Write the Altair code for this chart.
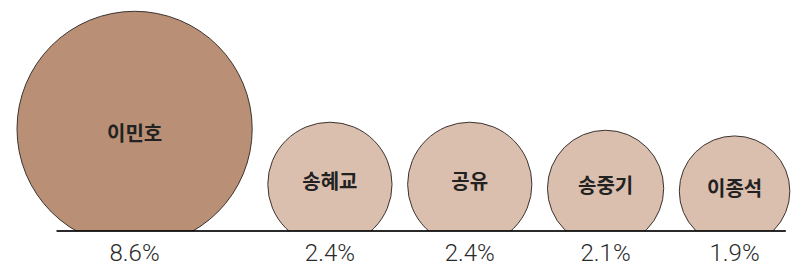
import math
import altair as alt
import pandas as pd

names = ["이민호", "송혜교", "공유", "송중기", "이종석"]
shares = [8.6, 2.4, 2.4, 2.1, 1.9]
share_labels = ["8.6%", "2.4%", "2.4%", "2.1%", "1.9%"]
groups = ["top", "rest", "rest", "rest", "rest"]

W, H = 789, 223
K = 40.1      # px of radius per sqrt(share)
GAP = 15.6    # gap between circles
LEFT = 9
SINK = 15.5   # how far circles sink below the baseline
TOP_LABEL_DROP = 6

rows = []
x = LEFT
for n, s, lab, g in zip(names, shares, share_labels, groups):
    r = K * math.sqrt(s)
    cx = x + r
    x = cx + r + GAP
    cy = r - SINK
    rows.append({"name": n, "share": s, "label": lab, "group": g,
                 "cx": cx, "cy": cy,
                 "ty": cy - (TOP_LABEL_DROP if g == "top" else -1.5),
                 "base": 0})
df = pd.DataFrame(rows)

xs = alt.Scale(domain=[0, W], nice=False, zero=False)
ys = alt.Scale(domain=[0, H], nice=False, zero=False)
maxsize = (2 * K * math.sqrt(max(shares))) ** 2

base = alt.Chart(df)

circles = base.mark_point(filled=True, shape="circle", clip=True, stroke="#3b3330",
                          strokeWidth=1, opacity=1).encode(
    x=alt.X("cx:Q", scale=xs, axis=None),
    y=alt.Y("cy:Q", scale=ys, axis=None),
    size=alt.Size("share:Q", scale=alt.Scale(domain=[0, max(shares)], range=[0, maxsize], zero=True), legend=None),
    color=alt.Color("group:N", scale=alt.Scale(domain=["top", "rest"], range=["#b99075", "#dbbfae"]), legend=None),
)

rule = base.mark_rule(color="#000000", opacity=0.4, strokeWidth=1.5).encode(
    x=alt.value(48.7), x2=alt.value(777.7), y=alt.Y("base:Q", scale=ys)
)

name_text = base.mark_text(font="Noto Sans CJK KR", fontWeight="bold", fontSize=20,
                           color="#222222", baseline="middle", align="center").encode(
    x=alt.X("cx:Q", scale=xs), y=alt.Y("ty:Q", scale=ys), text="name:N"
)

pct_text = base.mark_text(font="Roboto", fontWeight=300, fontSize=24, color="#2a2a2a",
                          baseline="middle", align="center", dy=23).encode(
    x=alt.X("cx:Q", scale=xs), y=alt.Y("base:Q", scale=ys), text="label:N"
)

chart = alt.layer(circles, rule, name_text, pct_text).properties(
    width=W, height=H,
    padding={"left": 0, "top": 0, "right": 0, "bottom": 42},
    autosize="none",
).configure_view(stroke=None)

chart.save("out.html", embed_options={"renderer": "svg", "actions": False})
